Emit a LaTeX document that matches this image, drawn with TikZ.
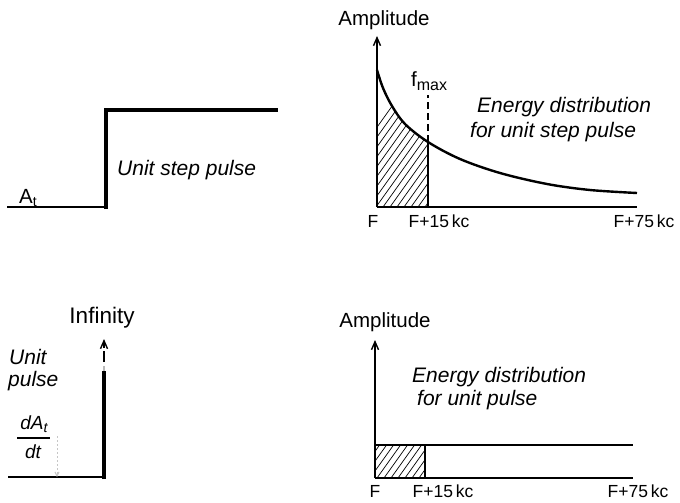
\documentclass[tikz,border=0pt]{standalone}
\usepackage{fontspec}
\setmainfont{Liberation Sans}
\usetikzlibrary{arrows.meta}
\begin{document}
\begin{tikzpicture}[x=1pt,y=-1pt,
  lbl/.style={font=\fontsize{20.5}{22}\selectfont, inner sep=0pt},
  ital/.style={font=\fontsize{21}{24}\selectfont\itshape, inner sep=0pt},
  ticklbl/.style={font=\fontsize{17.5}{20}\selectfont, inner sep=0pt},
  axis/.style={line width=1.4pt},
  curve/.style={line width=2.4pt},
  hatch/.style={line width=0.7pt},
  arr/.style={-{Straight Barb[length=8pt,width=7pt]}}]
\useasboundingbox[fill=white] (0,0) rectangle (680,503);

% ---------- top left: unit step pulse ----------
\coordinate (s0) at (7,207);
\coordinate (s1) at (106,207);
\coordinate (s1b) at (106,209);
\coordinate (s2) at (106,110);
\coordinate (s3) at (278,110);
\draw[line width=2pt] (s0) -- (s1);
\draw[line width=4.2pt, line join=miter] (s1b) -- (s2) -- (s3);
\node[lbl, anchor=base west] (at) at (19,203) {A\raisebox{-0.35ex}{\fontsize{14}{14}\selectfont t}};
\node[ital, anchor=west] (usp) at (117,170) {Unit step pulse};

% ---------- top right: energy distribution, step ----------
\coordinate (o1) at (377,207);
\coordinate (y1) at (377,36);
\coordinate (x1) at (637,207);
\coordinate (fm) at (428,142);
\coordinate (fb) at (428,207);
\coordinate (ft) at (428,95);
\begin{scope}
  \clip (377,0) rectangle (428,207);
  \clip (377,207) -- plot[smooth, tension=0.55] coordinates {(377,70) (383,88) (392,106) (405,124) (428,142) (460,159) (500,173) (547,184) (590,190) (637,193)} -- (637,207) -- cycle;
  \foreach \i in {-20,-13,...,200} {
    \draw[hatch] (340+\i,207) -- ++(100,-140);
  }
\end{scope}
\draw[curve] plot[smooth, tension=0.55] coordinates {(377,70) (383,88) (392,106) (405,124) (428,142) (460,159) (500,173) (547,184) (590,190) (637,193)};
\draw[axis, arr] (o1) -- (y1);
\draw[axis] (o1) -- (x1);
\draw[line width=2pt] (fb) -- (fm);
\draw[line width=2pt, dash pattern=on 7pt off 4pt] (fm) -- (ft);
\node[lbl] (amp1) at (384,20) {Amplitude};
\node[lbl, anchor=base west] (fmax) at (411,86) {f\raisebox{-0.4ex}{\fontsize{16}{16}\selectfont max}};
\node[ital, anchor=west] (ed1a) at (477,107) {Energy distribution};
\node[ital, anchor=west] (ed1b) at (470,132) {for unit step pulse};
\node[ticklbl] (tF1) at (373,221) {F};
\node[ticklbl] (t15a) at (439,221) {F+15\,kc};
\node[ticklbl] (t75a) at (644,221) {F+75\,kc};

% ---------- bottom left: unit pulse ----------
\coordinate (b0) at (8,477);
\coordinate (b1) at (104,477);
\coordinate (b1b) at (104,479);
\coordinate (b2) at (104,371);
\coordinate (b3) at (104,362);
\coordinate (b4) at (104,351);
\coordinate (b5) at (104,348);
\coordinate (b6) at (104,339);
\draw[line width=1.6pt] (b0) -- (b1);
\draw[line width=4pt] (b1b) -- (b2);
\draw[line width=2.5pt, gray!55] (b2) -- (104,366);
\draw[line width=1.4pt] (b3) -- (b4);
\draw[line width=1.4pt, arr] (b5) -- (b6);
\node[lbl, font=\fontsize{22.5}{24}\selectfont] (inf) at (102,318) {Infinity};
\node[ital, anchor=west] (unit) at (9,357) {Unit};
\node[ital, anchor=west] (pulse) at (8,381) {pulse};
\coordinate (fr0) at (17,438);
\coordinate (fr1) at (50,438);
\draw[line width=1.3pt] (fr0) -- (fr1);
\node[ital, font=\fontsize{19}{20}\selectfont\itshape] (num) at (34,424) {dA\raisebox{-0.35ex}{\fontsize{14}{14}\selectfont t}};
\node[ital, font=\fontsize{19}{20}\selectfont\itshape] (den) at (33,452) {dt};
\coordinate (d0) at (57,436);
\coordinate (d1) at (57,477);
\draw[gray!45, line width=1pt, dash pattern=on 2pt off 2pt, -{Straight Barb[length=4pt,width=4pt]}] (d0) -- (d1);

% ---------- bottom right: energy distribution, pulse ----------
\coordinate (o2) at (375,478);
\coordinate (y2) at (375,340);
\coordinate (x2) at (633,478);
\coordinate (l0) at (375,445);
\coordinate (l1) at (633,445);
\coordinate (r0) at (425,445);
\coordinate (r1) at (425,478);
\begin{scope}
  \clip (375,445) rectangle (425,478);
  \foreach \i in {-40,-33,...,100} {
    \draw[hatch] (375+\i,478) -- ++(50,-70);
  }
\end{scope}
\draw[axis, arr] (o2) -- (y2);
\draw[axis] (o2) -- (x2);
\draw[line width=2pt] (l0) -- (l1);
\draw[line width=1.2pt] (r0) -- (r1);
\node[lbl] (amp2) at (385,322) {Amplitude};
\node[ital, anchor=west] (ed2a) at (412,377) {Energy distribution};
\node[ital, anchor=west] (ed2b) at (417,400) {for unit pulse};
\node[ticklbl] (tF2) at (375,491) {F};
\node[ticklbl] (t15b) at (443,491) {F+15\,kc};
\node[ticklbl] (t75b) at (638,491) {F+75\,kc};
\end{tikzpicture}
\end{document}
